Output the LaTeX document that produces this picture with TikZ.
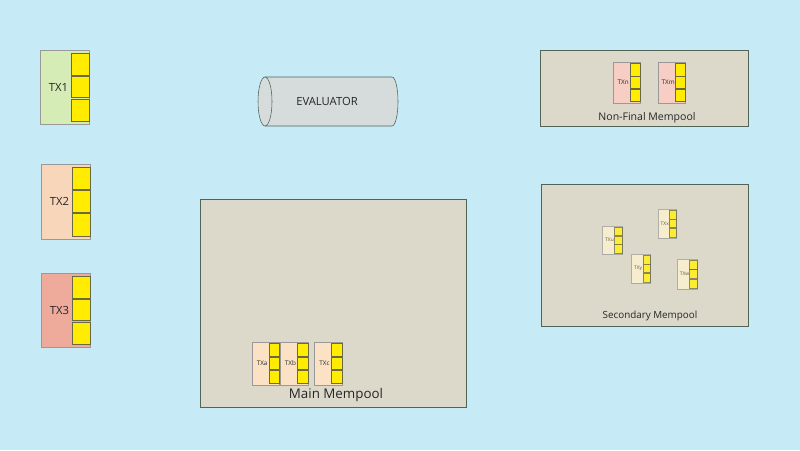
\documentclass[tikz,border=0pt]{standalone}
\usepackage{fontspec}
\setmainfont{Open Sans}
\usepackage{tikz}

\definecolor{hintergrund}{RGB}{199,235,246}
\definecolor{poolfill}{RGB}{220,217,203}
\definecolor{poolrand}{RGB}{80,100,88}
\definecolor{evalfill}{RGB}{214,219,220}
\definecolor{txgruen}{RGB}{214,236,182}
\definecolor{txpfirsich}{RGB}{248,214,186}
\definecolor{txlachs}{RGB}{238,170,155}
\definecolor{txrosa}{RGB}{246,206,196}
\definecolor{txhell}{RGB}{252,226,196}
\definecolor{txcreme}{RGB}{255,244,208}
\definecolor{slotgelb}{RGB}{255,236,0}
\definecolor{slotrand}{RGB}{105,105,70}

\begin{document}
\begin{tikzpicture}[x=0.025cm,y=-0.025cm]

% Hintergrund
\fill[hintergrund] (0,0) rectangle (800,450);
\useasboundingbox (0,0) rectangle (800,450);

% Mempools
\draw[poolrand, fill=poolfill] (200,199) rectangle (466,407);
\draw[poolrand, fill=poolfill] (540,50) rectangle (748,126);
\draw[poolrand, fill=poolfill] (541,184) rectangle (748,326);
\node[text=black!85, font=\fontsize{9.5}{11}\selectfont] (mainpool) at (336,395) {Main Mempool};
\node[text=black!85, font=\fontsize{7.5}{9}\selectfont] (nonfinal) at (647,118) {Non-Final Mempool};
\node[text=black!85, font=\fontsize{7}{8}\selectfont] (secondary) at (650,316) {Secondary Mempool};

% Evaluator (Zylinder)
\draw[poolrand, fill=evalfill]
    (265,77) -- (392,77) arc[start angle=-90, end angle=90, x radius=6, y radius=24.5]
    -- (265,126) arc[start angle=90, end angle=270, x radius=7, y radius=24.5] -- cycle;
\draw[poolrand] (265,77) arc[start angle=-90, end angle=90, x radius=7, y radius=24.5];
\node[font=\fontsize{8}{9}\selectfont, text=black!85] (evaluator) at (327,101) {EVALUATOR};

% Transaktionen
\foreach \n/\xa/\ya/\xb/\yb/\fc/\fs/\op in {
    TX1/40/50/89/124/txgruen/8/1, TX2/41/164/90/239/txpfirsich/8/1,
    TX3/41/273/90/347/txlachs/8/1,
    TXn/613/62/640/103/txrosa/4.5/1, TXm/658/62/685/103/txrosa/4.5/1,
    TXa/252/342/279/385/txhell/4.5/1, TXb/280/342/308/385/txhell/4.5/1,
    TXc/314/342/342/385/txhell/4.5/1,
    TXu/602/226/622/254/txcreme/3.5/0.75, TXx/658/209/676/238/txcreme/3.5/0.75,
    TXy/631/254/650/283/txcreme/3.5/0.75, TXw/677/259/697/289/txcreme/3.5/0.75} {
  \pgfmathsetmacro{\xs}{\xb-0.37*(\xb-\xa)}
  \pgfmathsetmacro{\h}{(\yb-\ya)}
  \pgfmathsetmacro{\ra}{\ya+0.04*\h}
  \pgfmathsetmacro{\rb}{\ya+0.34*\h}
  \pgfmathsetmacro{\rc}{\ya+0.355*\h}
  \pgfmathsetmacro{\rd}{\ya+0.645*\h}
  \pgfmathsetmacro{\re}{\ya+0.66*\h}
  \pgfmathsetmacro{\rf}{\ya+0.96*\h}
  \begin{scope}[opacity=\op]
    \draw[black!40, fill=\fc] (\xa,\ya) rectangle (\xb,\yb);
    \draw[slotrand, fill=slotgelb] (\xs,\ra) rectangle (\xb,\rb);
    \draw[slotrand, fill=slotgelb] (\xs,\rc) rectangle (\xb,\rd);
    \draw[slotrand, fill=slotgelb] (\xs,\re) rectangle (\xb,\rf);
    \node[text=black!85, inner sep=0pt, font=\fontsize{\fs}{\fs}\selectfont]
      (\n) at ({(\xa+\xs)/2+0.06*(\xb-\xa)},{(\ya+\yb)/2}) {\n};
  \end{scope}
}

\end{tikzpicture}
\end{document}
